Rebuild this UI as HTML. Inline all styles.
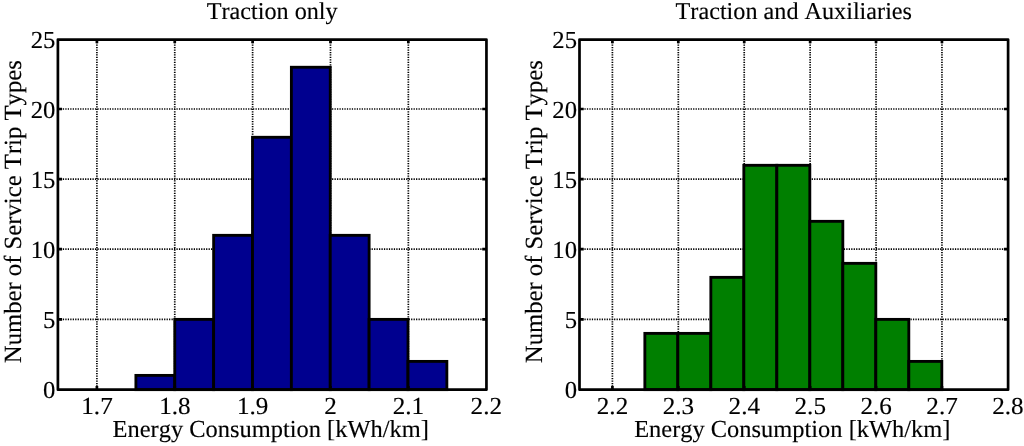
<!DOCTYPE html>
<html><head><meta charset="utf-8"><title>Energy Consumption Histograms</title>
<style>
html,body{margin:0;padding:0;background:#fff;}
svg{display:block;will-change:transform;}
text{font-family:"Liberation Serif","DejaVu Serif",serif;fill:#000;stroke:#000;stroke-width:0.14px;font-kerning:none;font-variant-ligatures:none;text-rendering:geometricPrecision;}
</style></head>
<body>
<svg width="1024" height="446" viewBox="0 0 1024 446">
<rect width="1024" height="446" fill="#fff"/>
<path d="M96.90 39.55V389.65M174.76 39.55V389.65M252.62 39.55V389.65M330.48 39.55V389.65M408.34 39.55V389.65M57.90 319.30H486.45M57.90 249.20H486.45M57.90 179.10H486.45M57.90 109.00H486.45" fill="none" stroke="#000" stroke-width="1.7" stroke-dasharray="1.25 1.22"/>
<rect x="135.90" y="375.40" width="38.87" height="14.25" fill="#00008f" stroke="#000" stroke-width="2.85"/>
<rect x="174.77" y="319.38" width="38.87" height="70.27" fill="#00008f" stroke="#000" stroke-width="2.85"/>
<rect x="213.64" y="235.33" width="38.87" height="154.32" fill="#00008f" stroke="#000" stroke-width="2.85"/>
<rect x="252.51" y="137.28" width="38.87" height="252.37" fill="#00008f" stroke="#000" stroke-width="2.85"/>
<rect x="291.38" y="67.25" width="38.87" height="322.40" fill="#00008f" stroke="#000" stroke-width="2.85"/>
<rect x="330.25" y="235.33" width="38.87" height="154.32" fill="#00008f" stroke="#000" stroke-width="2.85"/>
<rect x="369.12" y="319.38" width="38.87" height="70.27" fill="#00008f" stroke="#000" stroke-width="2.85"/>
<rect x="407.99" y="361.40" width="38.87" height="28.25" fill="#00008f" stroke="#000" stroke-width="2.85"/>
<rect x="57.90" y="39.55" width="428.55" height="350.10" fill="none" stroke="#000" stroke-linejoin="round" stroke-width="2.7"/>
<path d="M96.90 389.65v-3.6M96.90 39.55v3.6M174.76 389.65v-3.6M174.76 39.55v3.6M252.62 389.65v-3.6M252.62 39.55v3.6M330.48 389.65v-3.6M330.48 39.55v3.6M408.34 389.65v-3.6M408.34 39.55v3.6M57.90 319.30h4.2M486.45 319.30h-4.2M57.90 249.20h4.2M486.45 249.20h-4.2M57.90 179.10h4.2M486.45 179.10h-4.2M57.90 109.00h4.2M486.45 109.00h-4.2" fill="none" stroke="#000" stroke-width="2.7"/>
<text transform="translate(97.00 414.10) scale(1.018 0.992)" font-size="24.7" text-anchor="middle">1.7</text>
<text transform="translate(174.86 414.10) scale(1.018 0.992)" font-size="24.7" text-anchor="middle">1.8</text>
<text transform="translate(252.72 414.10) scale(1.018 0.992)" font-size="24.7" text-anchor="middle">1.9</text>
<text transform="translate(330.58 414.10) scale(1.018 0.992)" font-size="24.7" text-anchor="middle">2</text>
<text transform="translate(408.44 414.10) scale(1.018 0.992)" font-size="24.7" text-anchor="middle">2.1</text>
<text transform="translate(486.30 414.10) scale(1.018 0.992)" font-size="24.7" text-anchor="middle">2.2</text>
<text transform="translate(55.40 398.15) scale(1.0 0.992)" font-size="24.7" text-anchor="end">0</text>
<text transform="translate(55.40 328.05) scale(1.0 0.992)" font-size="24.7" text-anchor="end">5</text>
<text transform="translate(55.40 257.95) scale(1.0 0.992)" font-size="24.7" text-anchor="end">10</text>
<text transform="translate(55.40 187.85) scale(1.0 0.992)" font-size="24.7" text-anchor="end">15</text>
<text transform="translate(55.40 117.75) scale(1.0 0.992)" font-size="24.7" text-anchor="end">20</text>
<text transform="translate(55.40 47.65) scale(1.0 0.992)" font-size="24.7" text-anchor="end">25</text>
<text x="272.18" y="19.45" font-size="24.2" text-anchor="middle">Traction only</text>
<text x="270.68" y="437.45" font-size="24.45" text-anchor="middle">Energy Consumption [kWh/km]</text>
<text transform="translate(20.80 211.7) rotate(-90)" font-size="24.7" text-anchor="middle">Number of Service Trip Types</text>
<path d="M612.40 39.55V389.65M678.31 39.55V389.65M744.22 39.55V389.65M810.13 39.55V389.65M876.04 39.55V389.65M941.95 39.55V389.65M579.50 319.30H1008.10M579.50 249.20H1008.10M579.50 179.10H1008.10M579.50 109.00H1008.10" fill="none" stroke="#000" stroke-width="1.7" stroke-dasharray="1.25 1.22"/>
<rect x="644.85" y="333.38" width="32.99" height="56.27" fill="#007f00" stroke="#000" stroke-width="2.85"/>
<rect x="677.84" y="333.38" width="33.00" height="56.27" fill="#007f00" stroke="#000" stroke-width="2.85"/>
<rect x="710.84" y="277.35" width="32.99" height="112.30" fill="#007f00" stroke="#000" stroke-width="2.85"/>
<rect x="743.83" y="165.30" width="33.00" height="224.35" fill="#007f00" stroke="#000" stroke-width="2.85"/>
<rect x="776.83" y="165.30" width="32.99" height="224.35" fill="#007f00" stroke="#000" stroke-width="2.85"/>
<rect x="809.83" y="221.33" width="32.99" height="168.32" fill="#007f00" stroke="#000" stroke-width="2.85"/>
<rect x="842.82" y="263.35" width="33.00" height="126.30" fill="#007f00" stroke="#000" stroke-width="2.85"/>
<rect x="875.82" y="319.38" width="32.99" height="70.27" fill="#007f00" stroke="#000" stroke-width="2.85"/>
<rect x="908.81" y="361.40" width="33.00" height="28.25" fill="#007f00" stroke="#000" stroke-width="2.85"/>
<rect x="579.50" y="39.55" width="428.60" height="350.10" fill="none" stroke="#000" stroke-linejoin="round" stroke-width="2.7"/>
<path d="M612.40 389.65v-3.6M612.40 39.55v3.6M678.31 389.65v-3.6M678.31 39.55v3.6M744.22 389.65v-3.6M744.22 39.55v3.6M810.13 389.65v-3.6M810.13 39.55v3.6M876.04 389.65v-3.6M876.04 39.55v3.6M941.95 389.65v-3.6M941.95 39.55v3.6M579.50 319.30h4.2M1008.10 319.30h-4.2M579.50 249.20h4.2M1008.10 249.20h-4.2M579.50 179.10h4.2M1008.10 179.10h-4.2M579.50 109.00h4.2M1008.10 109.00h-4.2" fill="none" stroke="#000" stroke-width="2.7"/>
<text transform="translate(612.50 414.10) scale(1.018 0.992)" font-size="24.7" text-anchor="middle">2.2</text>
<text transform="translate(678.41 414.10) scale(1.018 0.992)" font-size="24.7" text-anchor="middle">2.3</text>
<text transform="translate(744.32 414.10) scale(1.018 0.992)" font-size="24.7" text-anchor="middle">2.4</text>
<text transform="translate(810.23 414.10) scale(1.018 0.992)" font-size="24.7" text-anchor="middle">2.5</text>
<text transform="translate(876.14 414.10) scale(1.018 0.992)" font-size="24.7" text-anchor="middle">2.6</text>
<text transform="translate(942.05 414.10) scale(1.018 0.992)" font-size="24.7" text-anchor="middle">2.7</text>
<text transform="translate(1007.96 414.10) scale(1.018 0.992)" font-size="24.7" text-anchor="middle">2.8</text>
<text transform="translate(577.00 398.15) scale(1.0 0.992)" font-size="24.7" text-anchor="end">0</text>
<text transform="translate(577.00 328.05) scale(1.0 0.992)" font-size="24.7" text-anchor="end">5</text>
<text transform="translate(577.00 257.95) scale(1.0 0.992)" font-size="24.7" text-anchor="end">10</text>
<text transform="translate(577.00 187.85) scale(1.0 0.992)" font-size="24.7" text-anchor="end">15</text>
<text transform="translate(577.00 117.75) scale(1.0 0.992)" font-size="24.7" text-anchor="end">20</text>
<text transform="translate(577.00 47.65) scale(1.0 0.992)" font-size="24.7" text-anchor="end">25</text>
<text x="793.80" y="19.45" font-size="24.2" text-anchor="middle">Traction and Auxiliaries</text>
<text x="792.30" y="437.45" font-size="24.45" text-anchor="middle">Energy Consumption [kWh/km]</text>
<text transform="translate(542.40 211.7) rotate(-90)" font-size="24.7" text-anchor="middle">Number of Service Trip Types</text>
</svg>
</body></html>
